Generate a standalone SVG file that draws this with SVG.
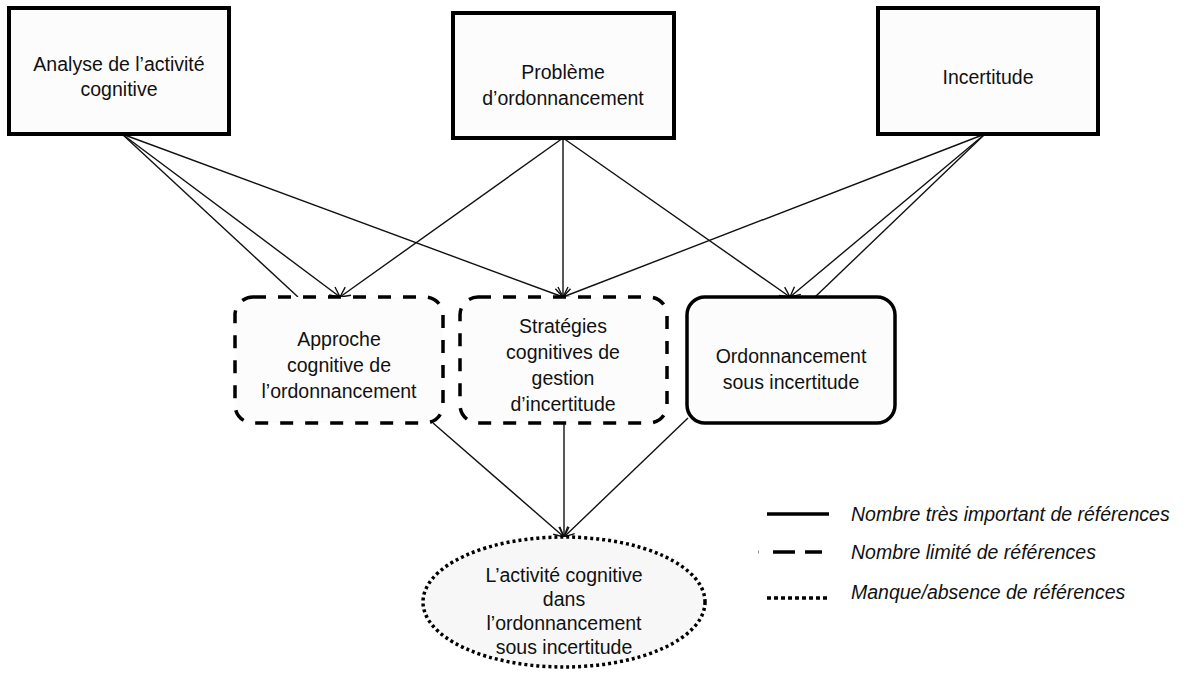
<svg xmlns="http://www.w3.org/2000/svg" width="1189" height="677" viewBox="0 0 1189 677">
<style>
.box{fill:#fcfcfc;stroke:#000;stroke-width:4}
.dash{fill:#fcfcfc;stroke:#000;stroke-width:3.5;stroke-dasharray:13 12}
.solid{fill:#fcfcfc;stroke:#000;stroke-width:3.5}
.dot{fill:#f7f7f7;stroke:#000;stroke-width:3.5;stroke-dasharray:3 3}
.t{font-family:"Liberation Sans",Arial,sans-serif;font-size:19.5px;fill:#111;text-anchor:middle}
.lg{font-family:"Liberation Sans",Arial,sans-serif;font-size:19.5px;font-style:italic;fill:#111}
.c line{stroke:#111;stroke-width:1.4;fill:none}
</style>
<defs>
<marker id="ah" viewBox="0 0 12 12" refX="11" refY="6" markerWidth="12" markerHeight="12" markerUnits="userSpaceOnUse" orient="auto">
<path d="M1,1 L11,6 L1,11" fill="none" stroke="#111" stroke-width="1.4"/>
</marker>
</defs>
<rect width="1189" height="677" fill="#fff"/>
<g class="c" id="connectors">
<line x1="122" y1="134" x2="298" y2="297"/>
<line x1="122" y1="134" x2="340" y2="297" marker-end="url(#ah)"/>
<line x1="122" y1="134" x2="563" y2="297" marker-end="url(#ah)"/>
<line x1="563" y1="138" x2="340" y2="297" marker-end="url(#ah)"/>
<line x1="563" y1="138" x2="563" y2="297" marker-end="url(#ah)"/>
<line x1="563" y1="138" x2="790" y2="297" marker-end="url(#ah)"/>
<line x1="985" y1="134" x2="563" y2="297" marker-end="url(#ah)"/>
<line x1="985" y1="134" x2="790" y2="297" marker-end="url(#ah)"/>
<line x1="985" y1="134" x2="815" y2="297"/>
<line x1="433" y1="423" x2="564" y2="537" marker-end="url(#ah)"/>
<line x1="564" y1="423" x2="564" y2="537" marker-end="url(#ah)"/>
<line x1="688" y1="418" x2="564" y2="537" marker-end="url(#ah)"/>
</g>
<g id="analyse">
<rect class="box" x="9" y="8" width="220" height="126"/>
<text class="t" x="119" y="71">Analyse de l’activité</text>
<text class="t" x="119" y="96">cognitive</text>
</g>
<g id="probleme">
<rect class="box" x="453" y="13" width="221" height="125"/>
<text class="t" x="563" y="79">Problème</text>
<text class="t" x="563" y="105">d’ordonnancement</text>
</g>
<g id="incertitude">
<rect class="box" x="878" y="8" width="220" height="126"/>
<text class="t" x="988" y="84">Incertitude</text>
</g>
<g id="approche">
<rect class="dash" x="235" y="297" width="208" height="126" rx="18"/>
<text class="t" x="339" y="346">Approche</text>
<text class="t" x="339" y="372">cognitive de</text>
<text class="t" x="339" y="398">l’ordonnancement</text>
</g>
<g id="strategies">
<rect class="dash" x="460" y="297" width="207" height="126" rx="18"/>
<text class="t" x="563" y="333">Stratégies</text>
<text class="t" x="563" y="359">cognitives de</text>
<text class="t" x="563" y="385">gestion</text>
<text class="t" x="563" y="411">d’incertitude</text>
</g>
<g id="ordonnancement">
<rect class="solid" x="687" y="297" width="208" height="126" rx="18"/>
<text class="t" x="791" y="363">Ordonnancement</text>
<text class="t" x="791" y="389">sous incertitude</text>
</g>
<g id="activite">
<ellipse class="dot" cx="564" cy="602" rx="141" ry="65"/>
<text class="t" x="564" y="582">L’activité cognitive</text>
<text class="t" x="564" y="606">dans</text>
<text class="t" x="564" y="630">l’ordonnancement</text>
<text class="t" x="564" y="654">sous incertitude</text>
</g>
<g id="legend">
<line x1="767" y1="514" x2="829" y2="514" stroke="#000" stroke-width="3.5"/>
<text class="lg" x="851" y="521">Nombre très important de références</text>
<line x1="758" y1="552" x2="759" y2="552" stroke="#999" stroke-width="3"/>
<line x1="773" y1="552" x2="822" y2="552" stroke="#000" stroke-width="3.5" stroke-dasharray="22 10"/>
<text class="lg" x="851" y="559">Nombre limité de références</text>
<line x1="767" y1="598" x2="829" y2="598" stroke="#000" stroke-width="3.5" stroke-dasharray="4 3"/>
<text class="lg" x="851" y="599">Manque/absence de références</text>
</g>
</svg>
